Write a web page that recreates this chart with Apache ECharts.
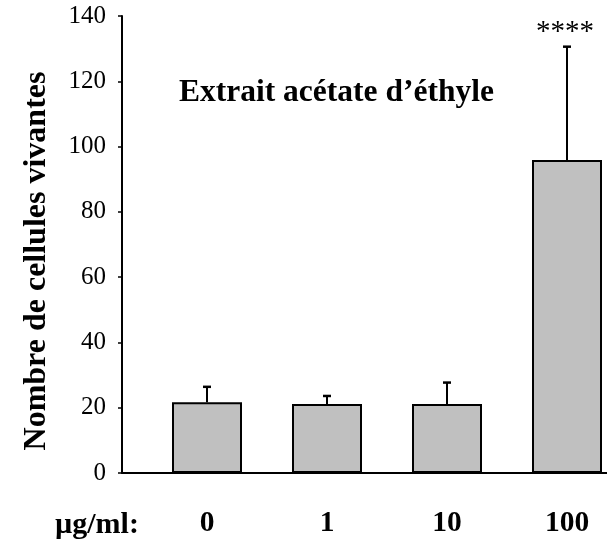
<!DOCTYPE html>
<html><head><meta charset="utf-8">
<script src="https://cdn.jsdelivr.net/npm/echarts@6/dist/echarts.min.js"></script>
<style>html,body{margin:0;padding:0;background:#fff}#c{width:607px;height:541px}</style>
</head><body><div id="c"></div>
<script>
const categories = ['0', '1', '10', '100'];
const means = [21.7, 21.1, 21.1, 95.9];
const errors = [4.7, 2.5, 6.6, 34.7];
const stars = ['', '', '', '****'];
const yTicks = [0, 20, 40, 60, 80, 100, 120, 140];

const FONT = '"Liberation Serif", "Times New Roman", serif';
const chart = echarts.init(document.getElementById('c'), null, {renderer: 'canvas'});
const errData = means.map((m, i) => [i, m, m + errors[i], stars[i]]);

chart.setOption({
  animation: false,
  backgroundColor: '#fff',
  title: [
    {text: 'Extrait acétate d’éthyle', left: 174, top: 72,
     textStyle: {fontFamily: FONT, fontWeight: 'bold', fontSize: 31.5, color: '#000'}},
    {text: 'µg/ml:', left: 50, top: 505,
     textStyle: {fontFamily: FONT, fontWeight: 'bold', fontSize: 30, color: '#000'}}
  ],
  graphic: [
    {type: 'text', x: 37, y: 261, rotation: Math.PI / 2,
     style: {text: 'Nombre de cellules vivantes', fill: '#000',
             font: 'bold 32px ' + FONT, align: 'center', verticalAlign: 'middle'}}
  ],
  grid: [
    {left: 207, right: 40, top: 16, bottom: 68},
    {left: 122, right: 0, top: 16, bottom: 68}
  ],
  xAxis: [
    {type: 'category', gridIndex: 0, data: categories, boundaryGap: false,
     axisLine: {show: false}, axisTick: {show: false},
     axisLabel: {fontFamily: FONT, fontWeight: 'bold', fontSize: 29.5, color: '#000', margin: 35}},
    {type: 'value', gridIndex: 1, min: 0, max: 1,
     axisLine: {show: true, onZero: false, lineStyle: {color: '#000', width: 2}},
     axisTick: {show: false}, axisLabel: {show: false}, splitLine: {show: false}}
  ],
  yAxis: [
    {type: 'value', gridIndex: 0, min: yTicks[0], max: yTicks[yTicks.length - 1], interval: 20,
     offset: 85,
     axisLine: {show: true, lineStyle: {color: '#000', width: 2}},
     axisTick: {show: true, length: 4, lineStyle: {color: '#000', width: 1.5}},
     axisLabel: {fontFamily: FONT, fontSize: 25, color: '#000', margin: 16},
     splitLine: {show: false}},
    {type: 'value', gridIndex: 1, min: 0, max: 1, show: false}
  ],
  series: [
    {type: 'bar', xAxisIndex: 0, yAxisIndex: 0, data: means, barWidth: 70, clip: false,
     itemStyle: {color: '#c0c0c0', borderColor: '#000', borderWidth: 2}},
    {type: 'custom', xAxisIndex: 0, yAxisIndex: 0, data: errData, z: 5, clip: false,
     renderItem: function (params, api) {
       const x = api.value(0);
       const lo = api.coord([x, api.value(1)]);
       const hi = api.coord([x, api.value(2)]);
       const s = stars[params.dataIndex];
       const children = [
         {type: 'line', shape: {x1: lo[0], y1: lo[1], x2: hi[0], y2: hi[1]}, style: {stroke: '#000', lineWidth: 2}},
         {type: 'line', shape: {x1: hi[0] - 4, y1: hi[1], x2: hi[0] + 4, y2: hi[1]}, style: {stroke: '#000', lineWidth: 2.5}}
       ];
       if (s) {
         children.push({type: 'text', x: hi[0] - 2, y: hi[1],
           style: {text: s, fill: '#000', font: '29px ' + FONT, align: 'center', verticalAlign: 'bottom'}});
       }
       return {type: 'group', children: children};
     }}
  ]
});
</script></body></html>
